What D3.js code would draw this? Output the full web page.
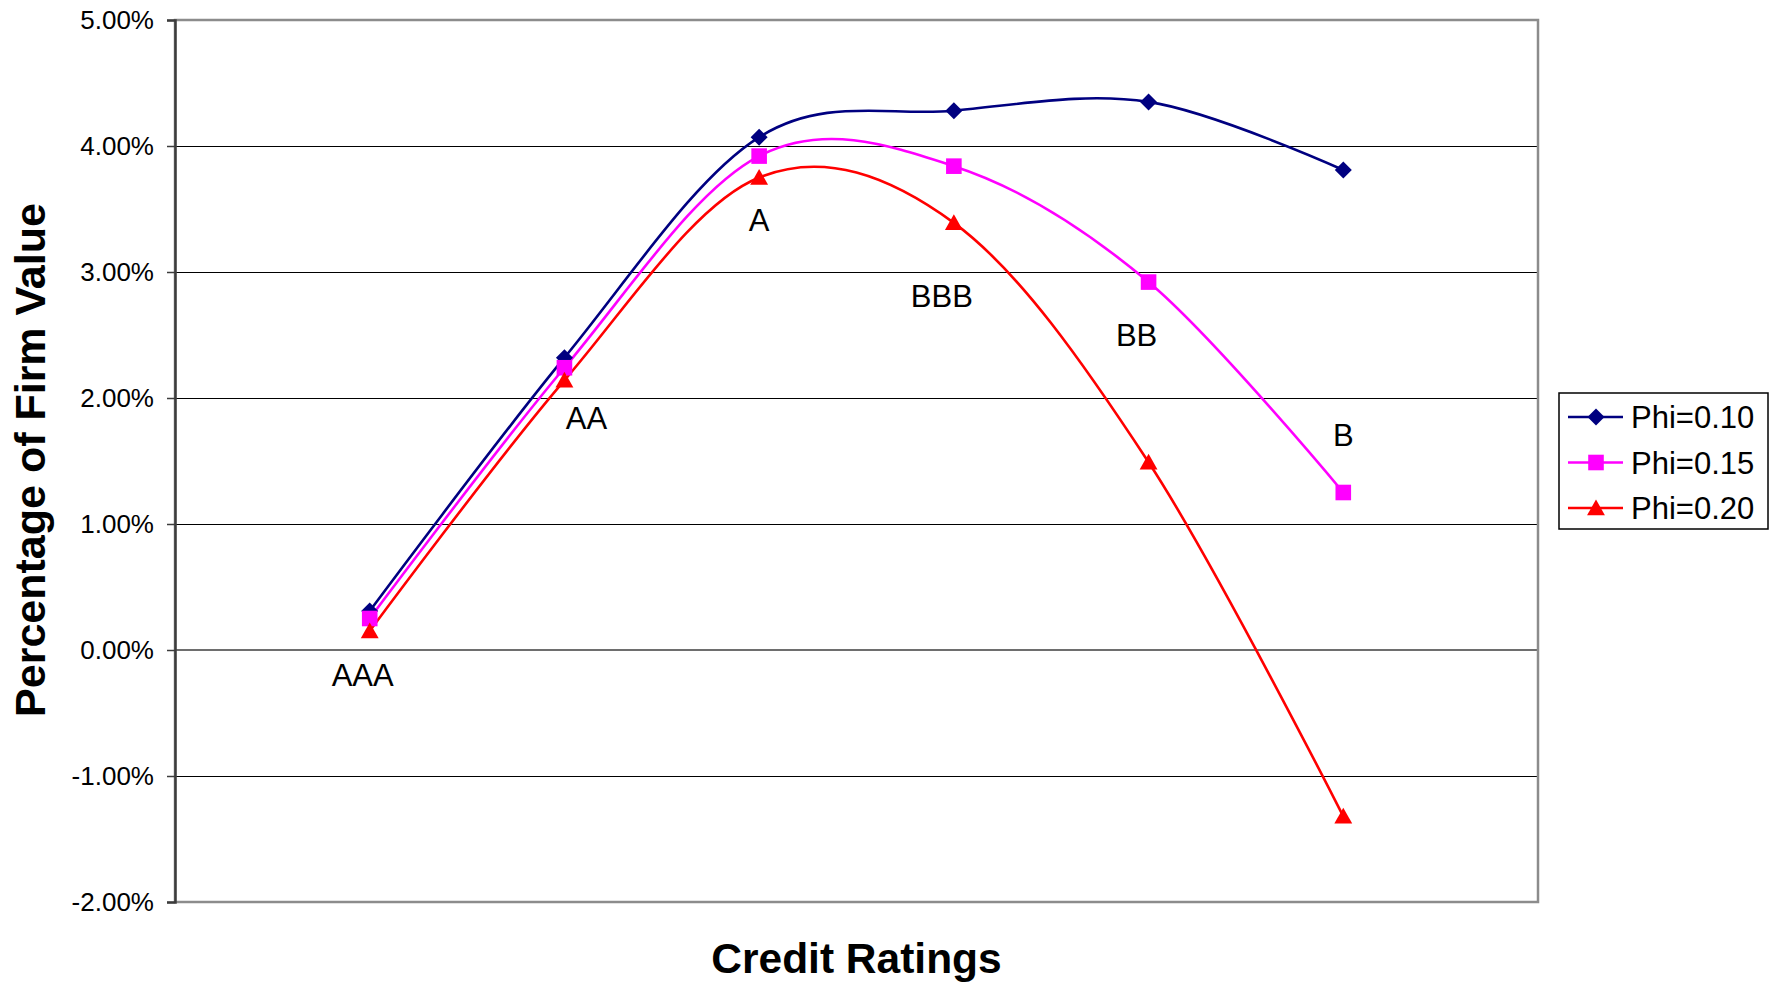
<!DOCTYPE html>
<html>
<head>
<meta charset="utf-8">
<script src="https://cdn.jsdelivr.net/npm/d3@7/dist/d3.min.js"></script>
<style>
  html, body { margin: 0; padding: 0; background: #fff; }
  svg { display: block; font-family: Arial, "Liberation Sans", sans-serif; }
</style>
</head>
<body>
<svg id="chart" width="1775" height="984"></svg>
<script>
// Credit ratings on the horizontal axis
const ratings = ["AAA", "AA", "A", "BBB", "BB", "B"];

// Percentage of firm value for each distress-cost level
const phi010 = [0.31, 2.32, 4.07, 4.28, 4.35, 3.81];
const phi015 = [0.25, 2.24, 3.92, 3.84, 2.92, 1.25];
const phi020 = [0.15, 2.14, 3.75, 3.39, 1.49, -1.32];

const seriesNames = ["Phi=0.10", "Phi=0.15", "Phi=0.20"];

// Y axis ticks (percent)
const yTicks = [5, 4, 3, 2, 1, 0, -1, -2];

// ---- layout ----
const plot = { left: 175, right: 1538, top: 20, bottom: 902 };

const series = [
  { name: seriesNames[0], values: phi010, color: "#000080", symbol: "diamond" },
  { name: seriesNames[1], values: phi015, color: "#FF00FF", symbol: "square" },
  { name: seriesNames[2], values: phi020, color: "#FF0000", symbol: "triangle" }
];

const svg = d3.select("#chart");

const x = d3.scalePoint().domain(ratings).range([plot.left, plot.right]).padding(1);
const y = d3.scaleLinear().domain([-2, 5]).range([plot.bottom, plot.top]);

// gridlines
svg.append("g")
  .selectAll("line")
  .data(yTicks.filter(t => t !== 5 && t !== -2 && t !== 0))
  .join("line")
  .attr("x1", plot.left).attr("x2", plot.right)
  .attr("y1", d => y(d) + 0.5).attr("y2", d => y(d) + 0.5)
  .attr("stroke", "#000").attr("stroke-width", 1)
  .attr("shape-rendering", "crispEdges");

// zero line (category axis)
svg.append("line")
  .attr("x1", plot.left).attr("x2", plot.right)
  .attr("y1", y(0)).attr("y2", y(0))
  .attr("stroke", "#6e6e6e").attr("stroke-width", 2);

// plot-area frame
svg.append("rect")
  .attr("x", plot.left).attr("y", plot.top)
  .attr("width", plot.right - plot.left).attr("height", plot.bottom - plot.top)
  .attr("fill", "none").attr("stroke", "#8c8c8c").attr("stroke-width", 2.5);

// value axis
const fmtPct = d => d3.format(".2f")(d).replace("\u2212", "-") + "%";
const yAxis = d3.axisLeft(y)
  .tickValues(yTicks)
  .tickSize(8)
  .tickPadding(13)
  .tickFormat(fmtPct);

const yg = svg.append("g")
  .attr("transform", `translate(${plot.left},0)`)
  .call(yAxis);
yg.select(".domain").attr("stroke", "#3c3c3c").attr("stroke-width", 2.5);
yg.selectAll(".tick line").attr("stroke", "#3c3c3c").attr("stroke-width", 1.5);
yg.selectAll(".tick text")
  .attr("font-size", 26)
  .attr("font-family", "Arial, 'Liberation Sans', sans-serif")
  .attr("fill", "#000");

// smoothed series lines
const line = d3.line()
  .x((d, i) => x(ratings[i]))
  .y(d => y(d))
  .curve(d3.curveCardinal.tension(0));

const symbolPath = {
  diamond: s => `M0,${-s}L${s},0L0,${s}L${-s},0Z`,
  square: s => `M${-s},${-s}H${s}V${s}H${-s}Z`,
  triangle: s => `M0,${-s}L${s * 1.05},${s * 0.85}L${-s * 1.05},${s * 0.85}Z`
};
const symbolSize = { diamond: 8.5, square: 7.8, triangle: 8.5 };

series.forEach(s => {
  svg.append("path")
    .datum(s.values)
    .attr("d", line)
    .attr("fill", "none")
    .attr("stroke", s.color)
    .attr("stroke-width", 2.6);
});

series.forEach(s => {
  svg.append("g")
    .selectAll("path")
    .data(s.values)
    .join("path")
    .attr("transform", (d, i) => `translate(${x(ratings[i])},${y(d)})`)
    .attr("d", symbolPath[s.symbol](symbolSize[s.symbol]))
    .attr("fill", s.color);
});

// rating labels placed beside the curves (pixel offsets from the Phi=0.20 point)
const labelOffsets = [[-7, 55], [22, 49], [0, 53], [-12, 84], [-12, -116], [0, -370]];
svg.append("g")
  .selectAll("text")
  .data(ratings)
  .join("text")
  .attr("x", (d, i) => x(d) + labelOffsets[i][0])
  .attr("y", (d, i) => y(phi020[i]) + labelOffsets[i][1])
  .attr("text-anchor", "middle")
  .attr("font-size", 31)
  .attr("fill", "#000")
  .text(d => d);

// axis titles
svg.append("text")
  .attr("x", (plot.left + plot.right) / 2)
  .attr("y", 973)
  .attr("text-anchor", "middle")
  .attr("font-size", 42.5)
  .attr("font-weight", "bold")
  .text("Credit Ratings");

svg.append("text")
  .attr("transform", "translate(45,460) rotate(-90)")
  .attr("text-anchor", "middle")
  .attr("font-size", 43)
  .attr("font-weight", "bold")
  .text("Percentage of Firm Value");

// legend
const legend = svg.append("g");
legend.append("rect")
  .attr("x", 1559).attr("y", 393)
  .attr("width", 209).attr("height", 136)
  .attr("fill", "#fff").attr("stroke", "#000").attr("stroke-width", 1.5);

const legendRowY = d3.scalePoint().domain(seriesNames).range([417, 508]);
series.forEach(s => {
  const ly = legendRowY(s.name);
  legend.append("line")
    .attr("x1", 1568).attr("x2", 1623)
    .attr("y1", ly).attr("y2", ly)
    .attr("stroke", s.color).attr("stroke-width", 2.6);
  legend.append("path")
    .attr("transform", `translate(1596,${ly})`)
    .attr("d", symbolPath[s.symbol](symbolSize[s.symbol]))
    .attr("fill", s.color);
  legend.append("text")
    .attr("x", 1631).attr("y", ly)
    .attr("dy", "0.36em")
    .attr("font-size", 31)
    .attr("fill", "#000")
    .text(s.name);
});
</script>
</body>
</html>
